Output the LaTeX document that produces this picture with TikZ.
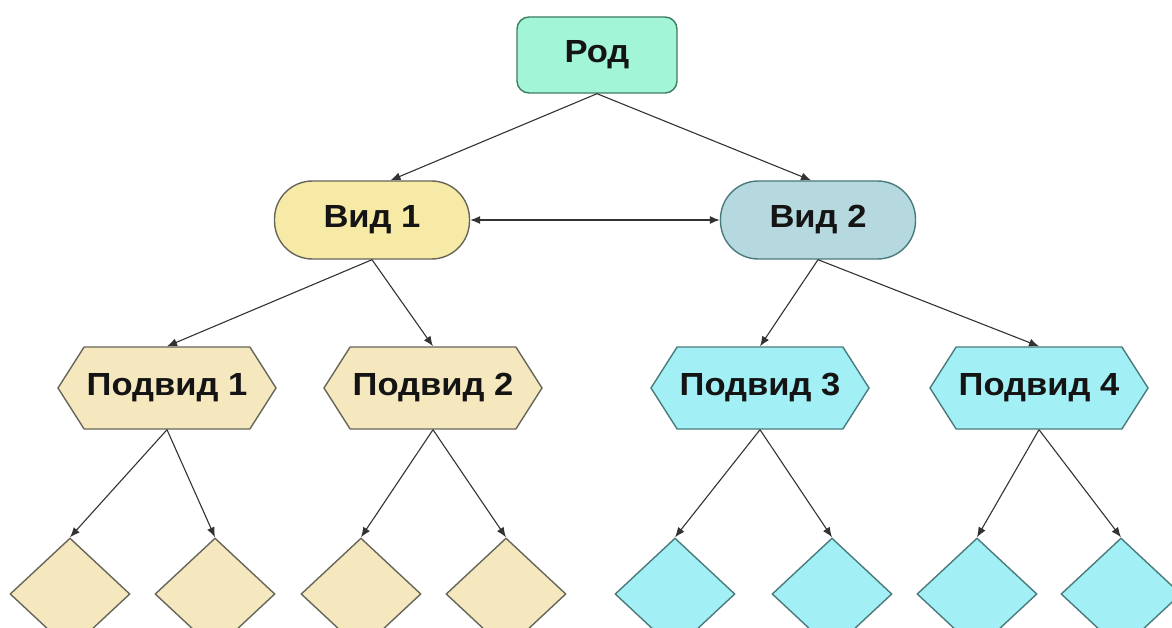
\documentclass[tikz,border=0pt]{standalone}
\usepackage{fontspec}
\setmainfont{Liberation Sans}[FakeStretch=1.08]
\usetikzlibrary{shapes.geometric,shapes.symbols,arrows.meta}
\definecolor{rodfill}{HTML}{A3F5D8}
\definecolor{rodline}{HTML}{3E7D5E}
\definecolor{vonefill}{HTML}{F7EAA6}
\definecolor{vtwofill}{HTML}{B5D9DE}
\definecolor{wheat}{HTML}{F5E8BF}
\definecolor{cyanf}{HTML}{A2F0F5}
\definecolor{edgeline}{HTML}{66665A}
\definecolor{cyanline}{HTML}{4A7A7B}
\definecolor{arrowc}{HTML}{333333}
\tikzset{
  lbl/.style={font=\fontsize{32}{36}\selectfont\bfseries, text=black!92},
  rodbox/.style={lbl, draw=rodline, fill=rodfill, line width=1.4pt, rounded corners=12pt,
    minimum width=160pt, minimum height=76pt, inner sep=0pt},
  vidbox/.style={lbl, draw=edgeline, line width=1.4pt, rounded corners=38pt,
    minimum width=195pt, minimum height=78pt, inner sep=0pt},
  hexbox/.style={lbl, draw=edgeline, line width=1.4pt, signal, signal to=west and east,
    signal pointer angle=115, minimum width=218pt, minimum height=82pt, inner sep=0pt},
  dia/.style={draw=edgeline, line width=1.4pt, diamond, minimum width=120pt, minimum height=112pt, inner sep=0pt},
  conn/.style={draw=arrowc, line width=1.1pt, -{Latex[length=10pt,width=8pt]}},
}
\begin{document}
\begin{tikzpicture}[x=1pt,y=-1pt]
\useasboundingbox (0,0) rectangle (1172,628);
\clip (0,0) rectangle (1172,628);
\fill[white] (0,0) rectangle (1172,628);
\node[rodbox] (rod) at (597,55) {Род};
\node[vidbox, fill=vonefill] (v1) at (372,220) {Вид 1};
\node[vidbox, fill=vtwofill, draw=cyanline] (v2) at (818,220) {Вид 2};
\node[hexbox, fill=wheat] (p1) at (167,388) {Подвид 1};
\node[hexbox, fill=wheat] (p2) at (433,388) {Подвид 2};
\node[hexbox, fill=cyanf, draw=cyanline] (p3) at (760,388) {Подвид 3};
\node[hexbox, fill=cyanf, draw=cyanline] (p4) at (1039,388) {Подвид 4};
\node[dia, fill=wheat] (d1) at (70,594) {};
\node[dia, fill=wheat] (d2) at (215,594) {};
\node[dia, fill=wheat] (d3) at (361,594) {};
\node[dia, fill=wheat] (d4) at (506,594) {};
\node[dia, fill=cyanf, draw=cyanline] (d5) at (675,594) {};
\node[dia, fill=cyanf, draw=cyanline] (d6) at (832,594) {};
\node[dia, fill=cyanf, draw=cyanline] (d7) at (977,594) {};
\node[dia, fill=cyanf, draw=cyanline] (d8) at (1121,594) {};
\draw[conn] (rod.south) -- (v1.65);
\draw[conn] (rod.south) -- (v2.100);
\draw[draw=arrowc, line width=1.1pt, {Latex[length=10pt,width=8pt]}-{Latex[length=10pt,width=8pt]}] (v1.east) -- (v2.west);
\draw[conn] (v1.south) -- (p1.north);
\draw[conn] (v1.south) -- (p2.north);
\draw[conn] (v2.south) -- (p3.north);
\draw[conn] (v2.south) -- (p4.north);
\draw[conn] (p1.south) -- (d1.north);
\draw[conn] (p1.south) -- (d2.north);
\draw[conn] (p2.south) -- (d3.north);
\draw[conn] (p2.south) -- (d4.north);
\draw[conn] (p3.south) -- (d5.north);
\draw[conn] (p3.south) -- (d6.north);
\draw[conn] (p4.south) -- (d7.north);
\draw[conn] (p4.south) -- (d8.north);
\end{tikzpicture}
\end{document}
